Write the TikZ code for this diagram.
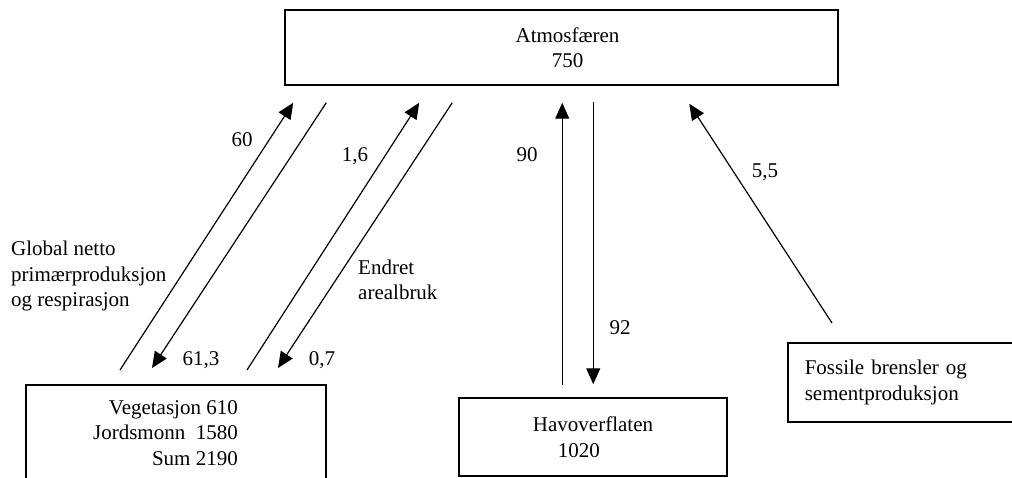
\documentclass[tikz,border=0pt]{standalone}
\usepackage{fontspec}
\setmainfont{Liberation Serif}
\usetikzlibrary{arrows.meta}

\begin{document}
\begin{tikzpicture}[x=1pt,y=-1pt,
    box/.style={draw,line width=1.5pt,inner sep=0pt},
    txt/.style={font=\fontsize{21}{25.5}\selectfont,inner sep=0pt},
    flow/.style={line width=1.2pt,-{Triangle[length=16pt,width=14pt]}}]
  \clip (0,0) rectangle (1012,478);
  % reservoirs
  \node[box,txt,align=center,minimum width=553pt,minimum height=75pt] (atm) at (561.5,47.5) {\hspace{12pt}Atmosfæren\\\hspace{12pt}750};
  \node[box,anchor=north west,minimum width=300pt,minimum height=120pt] (veg) at (25,384) {};
  \node[txt,align=right,anchor=east] (vegtxt) at (238,433) {Vegetasjon 610\\Jordsmonn\ \ 1580\\Sum 2190};
  \node[box,txt,align=left,minimum width=268pt,minimum height=78pt] (hav) at (593,437) {Havoverflaten\\\hspace{25pt}1020};
  \node[box,txt,anchor=north west,text width=226pt,inner xsep=17pt,minimum height=79pt,align=left] (fos) at (787,342) {Fossile brensler og\\sementproduksjon};
  % fluxes
  \draw[flow] ([shift={(95,-14)}]veg.north west) -- ([shift={(9,17)}]atm.south west);
  \draw[flow] ([shift={(42,17)}]atm.south west) -- ([shift={(127,-16)}]veg.north west);
  \draw[flow] ([shift={(222,-14)}]veg.north west) -- ([shift={(135,17)}]atm.south west);
  \draw[flow] ([shift={(168,17)}]atm.south west) -- ([shift={(253,-16)}]veg.north west);
  \draw[flow] ([shift={(104,-12)}]hav.north west) -- ([shift={(278,17)}]atm.south west);
  \draw[flow] ([shift={(309,16)}]atm.south west) -- ([shift={(135,-13)}]hav.north west);
  \draw[flow] ([shift={(45,-19)}]fos.north west) -- ([shift={(405,18)}]atm.south west);
  % labels
  \node[txt] (l60) at (242,140) {60};
  \node[txt] (l16) at (355,156) {1,6};
  \node[txt] (l613) at (201,360) {61,3};
  \node[txt] (l07) at (322,360) {0,7};
  \node[txt] (l90) at (527,155) {90};
  \node[txt] (l92) at (620,328) {92};
  \node[txt] (l55) at (765,172) {5,5};
  \node[txt,align=left,anchor=west] (lnpp) at (11,276) {Global netto\\primærproduksjon\\og respirasjon};
  \node[txt,align=left,anchor=west] (lland) at (358,280) {Endret\\arealbruk};
\end{tikzpicture}
\end{document}
